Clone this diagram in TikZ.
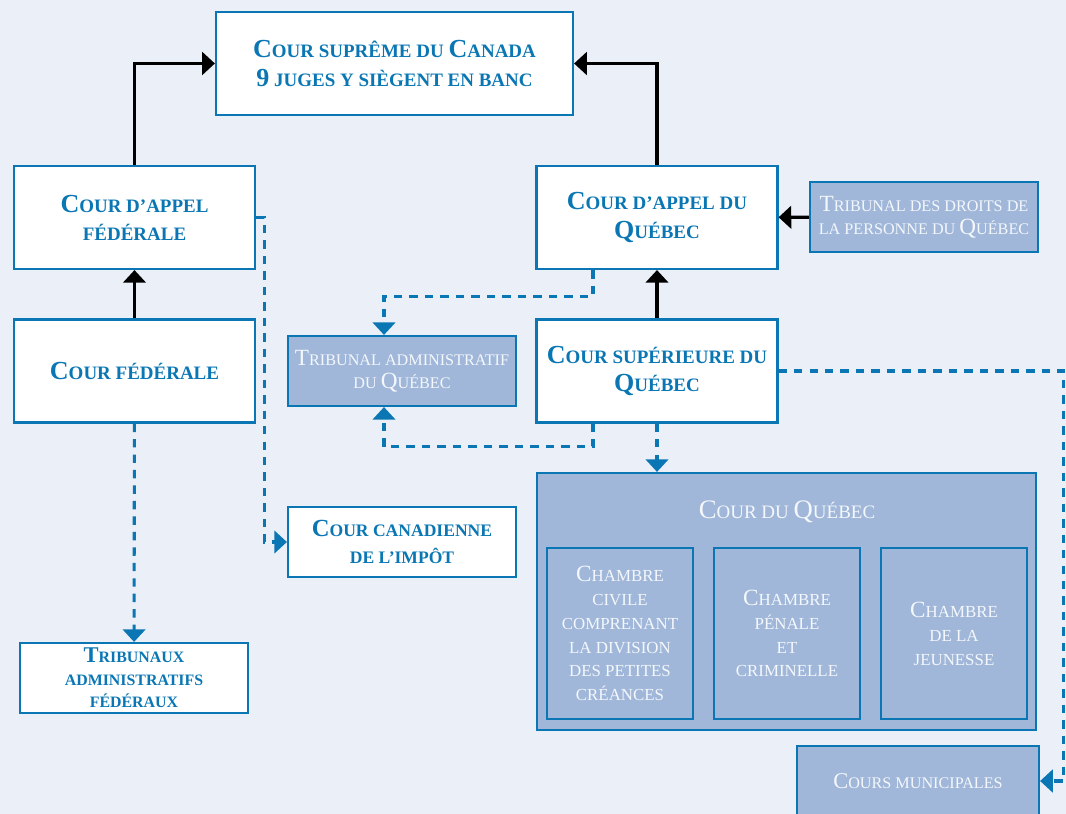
\documentclass[tikz,border=0pt]{standalone}
\usepackage{fontspec}
\setmainfont{Liberation Serif}
\usetikzlibrary{positioning,arrows.meta,calc}
\definecolor{bleu}{HTML}{0A77B4}
\definecolor{remplis}{HTML}{A0B7D9}
\definecolor{fond}{HTML}{EBEFF7}
\definecolor{pale}{HTML}{F4F7FB}
\newcommand{\initiale}[2][18.5]{{\fontsize{#1}{#1}\selectfont #2}}

\begin{document}
\begin{tikzpicture}[
  x=0.025cm, y=-0.025cm,
  >={Triangle[length=9pt,width=16pt]},
  cour/.style={draw=bleu, line width=1.5pt, fill=white, text=bleu, align=center, inner sep=0pt, font=\bfseries\fontsize{13.5}{20}\selectfont},
  grand/.style={cour, minimum width=6.025cm, minimum height=2.575cm},
  petit/.style={cour, minimum width=5.7cm, minimum height=1.75cm},
  trib/.style={draw=bleu, line width=1.5pt, fill=remplis, text=pale, align=center, inner sep=0pt, minimum width=5.7cm, minimum height=1.75cm, font=\fontsize{11.5}{16.3}\selectfont},
  chambre/.style={trib, line width=1pt, minimum width=3.65cm, minimum height=4.275cm, font=\fontsize{12}{17}\selectfont},
  arr/.style={->, line width=2.2pt},
  pointille/.style={->, bleu, line width=2.2pt, dash pattern=on 6pt off 5pt}
]

  % Fond
  \useasboundingbox (0,0) rectangle (1066,814);
  \clip (0,0) rectangle (1066,814);
  \fill[fond] (0,0) rectangle (1066,814);

  % Cours fédérales
  \node[cour, minimum width=8.925cm, minimum height=2.575cm] (csc) at (394.5,63.5) {\initiale{C}OUR SUPRÊME DU \initiale{C}ANADA\\\initiale{9} JUGES Y SIÈGENT EN BANC};
  \node[grand] (caf) at (134.5,217.5) {\initiale{C}OUR D’APPEL\\FÉDÉRALE};
  \node[grand] (cf) at (134.5,371) {\initiale{C}OUR FÉDÉRALE};
  \node[petit, font=\bfseries\fontsize{12.5}{19}\selectfont] (cci) at (402,542) {\initiale[17.5]{C}OUR CANADIENNE\\DE L’IMPÔT};
  \node[petit, font=\bfseries\fontsize{11.3}{16}\selectfont] (taf) at (134,678) {\initiale[16]{T}RIBUNAUX\\ADMINISTRATIFS\\FÉDÉRAUX};

  % Cours du Québec
  \node[grand] (caq) at (657,217.5) {\initiale{C}OUR D’APPEL DU\\\initiale{Q}UÉBEC};
  \node[grand] (csq) at (657,371) {\initiale{C}OUR SUPÉRIEURE DU\\\initiale{Q}UÉBEC};
  \node[trib] (tdp) at (924,217) {\initiale[16.5]{T}RIBUNAL DES DROITS DE\\LA PERSONNE DU \initiale[16.5]{Q}UÉBEC};
  \node[trib] (taq) at (402,371) {\initiale[16.5]{T}RIBUNAL ADMINISTRATIF\\DU \initiale[16.5]{Q}UÉBEC};

  % Cour du Québec et ses chambres
  \node[trib, minimum width=12.475cm, minimum height=6.425cm] (cq) at (786.5,601.5) {};
  \node[text=pale, font=\fontsize{13.5}{16}\selectfont] (cqt) at (787,512) {\initiale[19]{C}OUR DU \initiale[19]{Q}UÉBEC};
  \node[chambre] (ch1) at (620,633.5) {\initiale[16.5]{C}HAMBRE\\CIVILE\\COMPRENANT\\LA DIVISION\\DES PETITES\\CRÉANCES};
  \node[chambre] (ch2) at (787,633.5) {\initiale[16.5]{C}HAMBRE\\PÉNALE\\ET\\CRIMINELLE};
  \node[chambre] (ch3) at (954,633.5) {\initiale[16.5]{C}HAMBRE\\DE LA\\JEUNESSE};
  \node[trib, minimum width=6.05cm] (cm) at (918,781) {\initiale[16]{C}OURS MUNICIPALES};

  % Appels
  \draw[arr] (caf.north) |- (csc.west);
  \draw[arr] (caq.north) |- (csc.east);
  \draw[arr] (cf) -- (caf);
  \draw[arr] (csq) -- (caq);
  \draw[arr] (tdp) -- (caq);

  % Liens pointillés
  \draw[pointille] (caf.east) -- ++(8,0) |- (cci.west);
  \draw[pointille] (cf) -- (taf);
  \draw[pointille] ($(caq.south)+(-64,0)$) -- ++(0,26) -| ($(taq.north)+(-18,0)$);
  \draw[pointille] ($(csq.south)+(-64,0)$) -- ++(0,23) -| ($(taq.south)+(-18,0)$);
  \draw[pointille] (csq.south) -- (csq.south |- cq.north);
  \draw[pointille] (csq.east) -- ++(285,0) |- (cm.east);

\end{tikzpicture}
\end{document}
